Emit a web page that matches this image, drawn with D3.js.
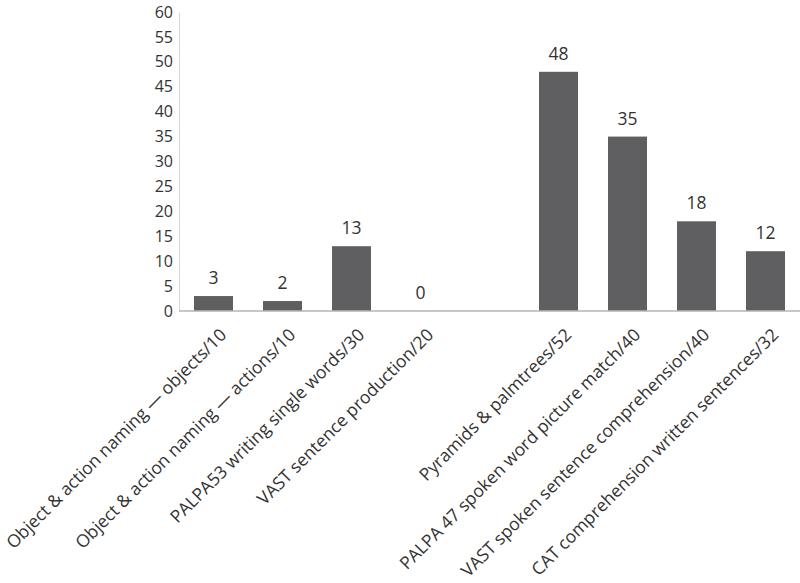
<!DOCTYPE html>
<html lang="en">
<head>
<meta charset="utf-8">
<title>Scores</title>
<script src="https://cdn.jsdelivr.net/npm/d3@7"></script>
<style>
  body { margin: 0; background: #fff; }
  text { font-family: "Open Sans", sans-serif; fill: #333; }
  .bar { fill: #5f5f61; }
</style>
</head>
<body>
<div id="chart"></div>
<script>
// one empty slot ("gap") separates the two test groups
var categories = [
  "Object & action naming \u2014 objects/10",
  "Object & action naming \u2014 actions/10",
  "PALPA53 writing single words/30",
  "VAST sentence production/20",
  "",
  "Pyramids & palmtrees/52",
  "PALPA 47 spoken word picture match/40",
  "VAST spoken sentence comprehension/40",
  "CAT comprehension written sentences/32"
];
var scores = [3, 2, 13, 0, null, 48, 35, 18, 12];
var yTicks = [0, 5, 10, 15, 20, 25, 30, 35, 40, 45, 50, 55, 60];

var width = 800, height = 583;
var margin = {top: 12, right: 0, bottom: 272, left: 179};

var svg = d3.select("#chart").append("svg")
    .attr("width", width)
    .attr("height", height);

var data = categories.map(function(c, i) { return {key: i, label: c, value: scores[i]}; });

var x = d3.scaleBand()
    .domain(data.map(function(d) { return d.key; }))
    .range([margin.left, width - margin.right])
    .paddingInner(0.435)
    .paddingOuter(0.2175);

var y = d3.scaleLinear()
    .domain([0, 60])
    .range([height - margin.bottom, margin.top]);

// y axis
var yAxis = svg.append("g")
    .attr("transform", "translate(" + margin.left + ",0)")
    .call(d3.axisLeft(y).tickValues(yTicks).tickSize(0).tickPadding(6));
yAxis.select(".domain").attr("stroke", "#dadada");
yAxis.selectAll("text").style("font-size", "16px").attr("fill", "#333");

var bars = data.filter(function(d) { return d.value !== null; });

svg.append("g").selectAll("rect")
    .data(bars)
  .enter().append("rect")
    .attr("class", "bar")
    .attr("x", function(d) { return x(d.key); })
    .attr("y", function(d) { return y(d.value); })
    .attr("width", x.bandwidth())
    .attr("height", function(d) { return y(0) - y(d.value); });

// x axis line
svg.append("line")
    .attr("x1", margin.left).attr("x2", width - margin.right)
    .attr("y1", y(0)).attr("y2", y(0))
    .attr("stroke", "#b4b4b4")
    .attr("stroke-width", 1.5);

// value labels
svg.append("g").selectAll("text")
    .data(bars)
  .enter().append("text")
    .attr("x", function(d) { return x(d.key) + x.bandwidth() / 2; })
    .attr("y", function(d) { return y(d.value) - 12; })
    .attr("text-anchor", "middle")
    .style("font-size", "17.5px")
    .text(function(d) { return d.value; });

// category labels
svg.append("g").selectAll("text")
    .data(data.filter(function(d) { return d.label; }))
  .enter().append("text")
    .attr("transform", function(d) {
      return "translate(" + (x(d.key) + x.bandwidth() / 2 + 14) + "," + (y(0) + 25) + ") rotate(-45)";
    })
    .attr("text-anchor", "end")
    .style("font-size", "17.5px")
    .text(function(d) { return d.label; });
</script>
</body>
</html>
